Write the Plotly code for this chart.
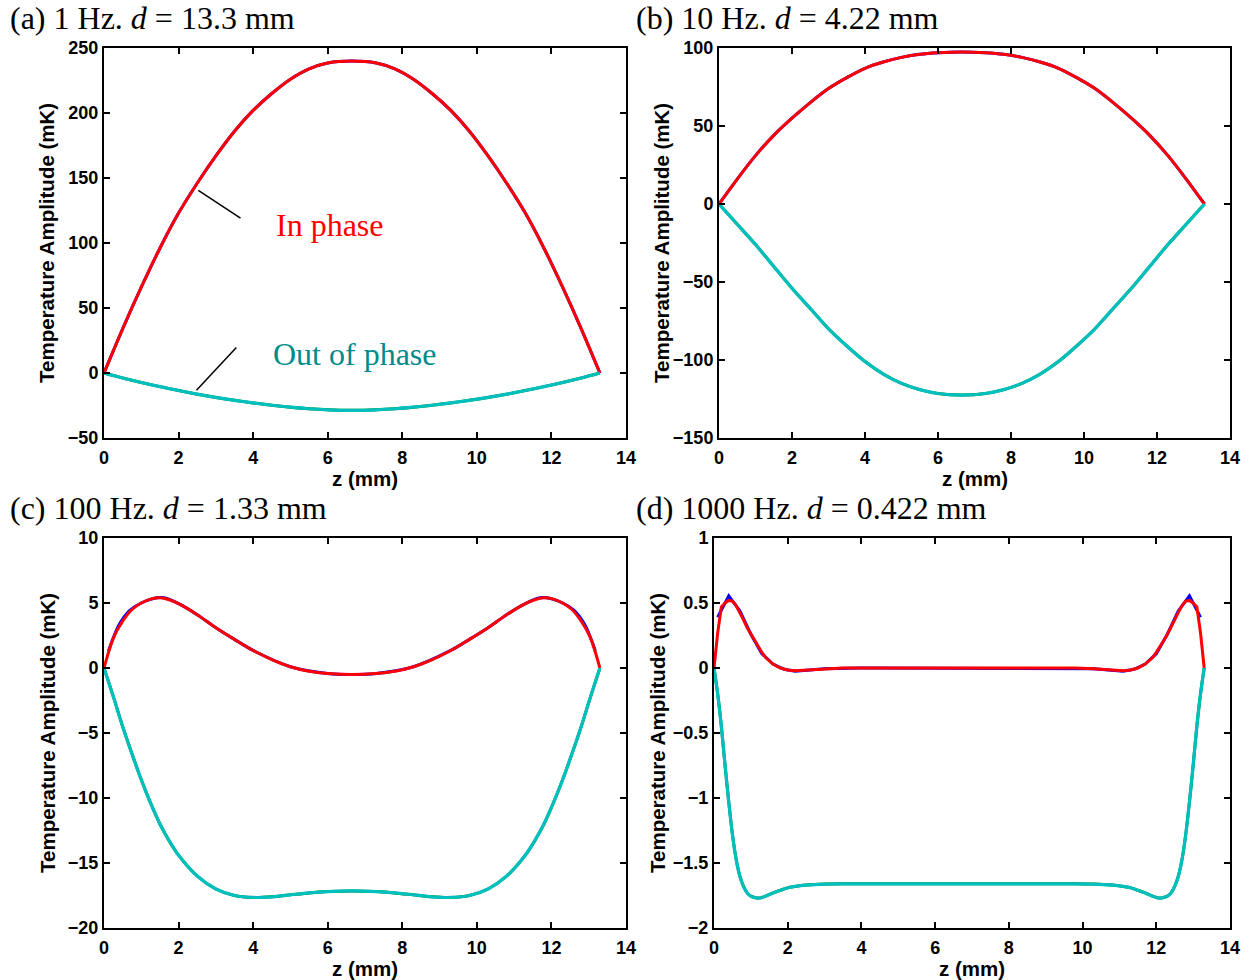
import plotly.graph_objects as go

# ---------------- data ----------------
z_ab = [0, 0.5, 1.0, 1.5, 2.0, 2.5, 3.0, 3.5, 4.0, 4.5, 5.0, 5.5, 6.0, 6.65,
        7.3, 7.8, 8.3, 8.8, 9.3, 9.8, 10.3, 10.8, 11.3, 11.8, 12.3, 12.8, 13.3]

in_a = [0, 34, 66, 96, 123, 146, 167, 186, 202, 215, 226, 234, 238.5, 240,
        238.5, 234, 226, 215, 202, 186, 167, 146, 123, 96, 66, 34, 0]
out_a = [0, -3.8, -7.3, -10.5, -13.5, -16.3, -18.8, -21, -23, -24.8, -26.3, -27.5, -28.3, -28.7,
         -28.3, -27.5, -26.3, -24.8, -23, -21, -18.8, -16.3, -13.5, -10.5, -7.3, -3.8, 0]

in_b = [0, 16, 31, 44, 55, 65, 74, 81, 87, 91, 94, 96, 97, 97.5,
        97, 96, 94, 91, 87, 81, 74, 65, 55, 44, 31, 16, 0]
out_b = [0, -13, -26, -40, -54, -67, -80, -91, -101, -109, -115, -119, -121.5, -122.5,
         -121.5, -119, -115, -109, -101, -91, -80, -67, -54, -40, -26, -13, 0]

z_c = [0, 0.25, 0.5, 0.75, 1.0, 1.25, 1.5, 1.75, 2.0, 2.5, 3.0, 3.5, 4.0, 4.5, 5.0, 5.5, 6.0, 6.65,
       7.3, 7.8, 8.3, 8.8, 9.3, 9.8, 10.3, 10.8, 11.3, 11.55, 11.8, 12.05, 12.3, 12.55, 12.8, 13.05, 13.3]
in_c = [0, 2.3, 3.6, 4.5, 5.0, 5.3, 5.4, 5.25, 4.95, 4.1, 3.1, 2.2, 1.35, 0.65, 0.1, -0.25, -0.42, -0.5,
        -0.42, -0.25, 0.1, 0.65, 1.35, 2.2, 3.1, 4.1, 4.95, 5.25, 5.4, 5.3, 5.0, 4.5, 3.6, 2.3, 0]
out_c = [0, -2.2, -4.5, -6.6, -8.6, -10.4, -12.0, -13.3, -14.4, -16.0, -17.0, -17.5, -17.65, -17.6, -17.45, -17.3, -17.2, -17.15,
         -17.2, -17.3, -17.45, -17.6, -17.65, -17.5, -17.0, -16.0, -14.4, -13.3, -12.0, -10.4, -8.6, -6.6, -4.5, -2.2, 0]

z_c_blue = [0.12, 0.4, 0.7, 1.0, 1.3, 1.6, 2.0, 2.5, 3.0, 3.5, 4.0, 5.0, 6.0, 6.65,
            7.3, 8.3, 9.3, 9.8, 10.3, 10.8, 11.3, 11.7, 12.0, 12.3, 12.6, 12.9, 13.18]
blue_c = [1.3, 3.3, 4.45, 5.0, 5.33, 5.4, 4.95, 4.1, 3.1, 2.2, 1.35, 0.1, -0.42, -0.5,
          -0.42, 0.1, 1.35, 2.2, 3.1, 4.1, 4.95, 5.4, 5.33, 5.0, 4.45, 3.3, 1.3]

z_d = [0, 0.1, 0.2, 0.3, 0.4, 0.5, 0.6, 0.7, 0.8, 0.9, 1.0, 1.1, 1.2, 1.3, 1.4, 1.6, 1.8, 2.0, 2.2, 2.5, 3.0, 3.5, 4.0,
       6.65,
       9.3, 9.8, 10.3, 10.8, 11.1, 11.3, 11.5, 11.7, 11.9, 12.0, 12.1, 12.2, 12.3, 12.4, 12.5, 12.6, 12.7, 12.8, 12.9, 13.0, 13.1, 13.2, 13.3]
in_d = [0, 0.27, 0.47, 0.5, 0.52, 0.515, 0.48, 0.43, 0.37, 0.31, 0.26, 0.21, 0.16, 0.12, 0.08, 0.03, 0.0, -0.015, -0.022, -0.018, -0.006, 0, 0,
        0,
        0, 0, -0.006, -0.018, -0.022, -0.015, 0.0, 0.03, 0.08, 0.12, 0.16, 0.21, 0.26, 0.31, 0.37, 0.43, 0.48, 0.515, 0.52, 0.5, 0.47, 0.27, 0]
out_d = [0, -0.2, -0.45, -0.75, -1.03, -1.28, -1.47, -1.6, -1.68, -1.73, -1.755, -1.765, -1.77, -1.765, -1.755, -1.73, -1.71, -1.69, -1.68, -1.67, -1.662, -1.66, -1.66,
         -1.66,
         -1.66, -1.66, -1.662, -1.67, -1.68, -1.69, -1.71, -1.73, -1.755, -1.765, -1.77, -1.765, -1.755, -1.73, -1.68, -1.6, -1.47, -1.28, -1.03, -0.75, -0.45, -0.2, 0]

z_d_blue = [0.1, 0.4, 0.7, 1.0, 1.3, 1.6, 1.9, 2.2, 2.6, 3.0, 4.0, 6.65,
            9.3, 10.3, 10.7, 11.1, 11.4, 11.7, 12.0, 12.3, 12.6, 12.9, 13.2]
blue_d = [0.39, 0.555, 0.44, 0.26, 0.11, 0.03, -0.01, -0.025, -0.015, -0.005, 0, 0,
          0, -0.005, -0.015, -0.025, -0.01, 0.03, 0.11, 0.26, 0.44, 0.555, 0.39]

panel_titles = ["(a) 1 Hz. <i>d</i> = 13.3 mm", "(b) 10 Hz. <i>d</i> = 4.22 mm",
                "(c) 100 Hz. <i>d</i> = 1.33 mm", "(d) 1000 Hz. <i>d</i> = 0.422 mm"]
y_ranges = [[-50, 250], [-150, 100], [-20, 10], [-2, 1]]
y_dticks = [50, 50, 5, 0.5]
x_tickvals = [0, 2, 4, 6, 8, 10, 12, 14]

# annotation pointer lines in panel (a): (z0, v0, z1, v1)
pointer_in = [2.53, 140.5, 3.66, 119.1]
pointer_out = [2.48, -13.2, 3.55, 19.7]

# ---------------- figure ----------------
W, H = 1249, 980
# pixel boxes of the four axes (left, right, top, bottom)
boxes = [(104, 626, 48, 438), (719, 1230, 48, 438), (104, 626, 538, 928), (714, 1230, 538, 928)]


def px(xp):
    return xp / W


def py(yp):
    return 1 - yp / H


RED, BLUE, CYAN, GREEN = "#ff0000", "#0000ff", "#00bfbf", "#008000"

fig = go.Figure()

series = [
    (z_ab, in_a, z_ab, in_a, z_ab, out_a),
    (z_ab, in_b, z_ab, in_b, z_ab, out_b),
    (z_c_blue, blue_c, z_c, in_c, z_c, out_c),
    (z_d_blue, blue_d, z_d, in_d, z_d, out_d),
]

for i, (zb, vb, zr, vr, zo, vo) in enumerate(series):
    xa = "x" if i == 0 else f"x{i+1}"
    ya = "y" if i == 0 else f"y{i+1}"
    smooth = "spline" if i < 3 else "linear"
    fig.add_trace(go.Scatter(x=zb, y=vb, mode="lines",
                             line=dict(color=BLUE, width=3, shape=smooth, smoothing=0.8),
                             xaxis=xa, yaxis=ya, showlegend=False))
    fig.add_trace(go.Scatter(x=zo, y=vo, mode="lines",
                             line=dict(color=GREEN, width=3, shape="spline", smoothing=0.8),
                             xaxis=xa, yaxis=ya, showlegend=False))
    fig.add_trace(go.Scatter(x=zr, y=vr, mode="lines",
                             line=dict(color=RED, width=3, shape=smooth, smoothing=0.8),
                             xaxis=xa, yaxis=ya, showlegend=False))
    fig.add_trace(go.Scatter(x=zo, y=vo, mode="lines",
                             line=dict(color=CYAN, width=3.2, shape="spline", smoothing=0.8),
                             xaxis=xa, yaxis=ya, showlegend=False))

TICKFONT = dict(family="Liberation Sans", size=18, color="black", weight="bold")
TITLEFONT = dict(family="Liberation Sans", size=20.5, color="black", weight="bold")
SERIF = "Liberation Serif"

layout = dict(width=W, height=H, margin=dict(l=0, r=0, t=0, b=0, pad=0, autoexpand=False),
              paper_bgcolor="white", plot_bgcolor="white", showlegend=False)

annotations = []
for i, (l, r, t, b) in enumerate(boxes):
    sfx = "" if i == 0 else str(i + 1)
    common = dict(showline=True, linecolor="black", linewidth=2, mirror="ticks",
                  ticks="inside", ticklen=6, tickwidth=2, tickcolor="black", automargin=False,
                  showgrid=False, zeroline=False, tickfont=TICKFONT)
    layout["xaxis" + sfx] = dict(domain=[px(l), px(r)], range=[0, 14], tickvals=x_tickvals,
                                 anchor="y" + sfx, ticklabelstandoff=2, **common)
    layout["yaxis" + sfx] = dict(domain=[py(b), py(t)], range=y_ranges[i], dtick=y_dticks[i],
                                 anchor="x" + sfx, ticklabelstandoff=0, **common)
    # panel title
    annotations.append(dict(text=panel_titles[i], xref="paper", yref="paper",
                            x=px(8 if i % 2 == 0 else 634), y=py(t - 30),
                            xanchor="left", yanchor="middle", showarrow=False,
                            font=dict(family=SERIF, size=32, color="black")))
    # x axis title
    annotations.append(dict(text="z (mm)", xref="paper", yref="paper",
                            x=px((l + r) / 2), y=py(b + 40),
                            xanchor="center", yanchor="middle", showarrow=False, font=TITLEFONT))
    # y axis title
    annotations.append(dict(text="Temperature Amplitude (mK)", xref="paper", yref="paper",
                            x=px(l - 57), y=py((t + b) / 2), textangle=-90,
                            xanchor="center", yanchor="middle", showarrow=False, font=TITLEFONT))

annotations.append(dict(text="In phase", xref="x", yref="y", x=6.07, y=113.8, showarrow=False,
                        xanchor="center", yanchor="middle",
                        font=dict(family=SERIF, size=32, color="#ff0000")))
annotations.append(dict(text="Out of phase", xref="x", yref="y", x=6.72, y=14.3, showarrow=False,
                        xanchor="center", yanchor="middle",
                        font=dict(family=SERIF, size=32, color="#008b8b")))
layout["annotations"] = annotations

layout["shapes"] = [
    dict(type="line", xref="x", yref="y", x0=pointer_in[0], y0=pointer_in[1], x1=pointer_in[2], y1=pointer_in[3],
         line=dict(color="black", width=1.5)),
    dict(type="line", xref="x", yref="y", x0=pointer_out[0], y0=pointer_out[1], x1=pointer_out[2], y1=pointer_out[3],
         line=dict(color="black", width=1.5)),
]

fig.update_layout(**layout)
fig.write_html("out.html")
